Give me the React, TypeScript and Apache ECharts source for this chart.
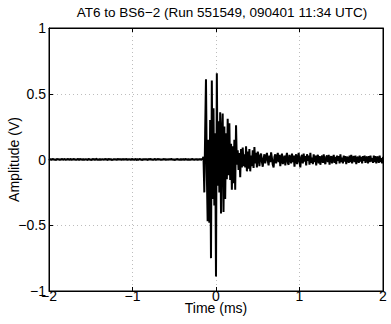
import React, { useEffect, useRef } from "react";
import * as echarts from "echarts";

// Sampling grid of the trace (ms)
const TIME_START = -2;
const TIME_STEP = 0.01;

// Quiet period before the burst, t = -2.00 .. -0.16 ms (V)
const preBurst: number[] = [
  0.004, -0.003, 0.006, -0.005, 0.002, 0.005, -0.004, 0.003, -0.006, 0.001,
  0.005, -0.002, 0.004, -0.006, 0.003, -0.001, 0.006, -0.004, 0.002, 0.004,
  -0.005, 0.003, -0.002, 0.006, -0.004, 0.001, 0.005, -0.006, 0.003, -0.002,
  0.006, -0.003, 0.002, -0.005, 0.004, 0.003, -0.006, 0.005, -0.001, 0.002,
  -0.004, 0.006, -0.005, 0.003, -0.002, 0.004, -0.006, 0.002, 0.005, -0.003,
  0.001, -0.005, 0.006, -0.002, 0.004, -0.004, 0.003, 0.006, -0.005, 0.002,
  -0.003, 0.005, -0.006, 0.004, -0.001, 0.003, -0.004, 0.006, -0.002, 0.005,
  -0.006, 0.002, 0.004, -0.003, 0.006, -0.005, 0.001, -0.004, 0.005, -0.002,
  0.003, -0.006, 0.005, -0.001, 0.004, -0.003, 0.006, -0.005, 0.002, 0.003,
  -0.004, 0.005, -0.002, 0.006, -0.006, 0.003, -0.001, 0.004, -0.005, 0.006,
  -0.002, 0.003, -0.005, 0.004, 0.002, -0.006, 0.005, -0.003, 0.001, 0.006,
  -0.004, 0.002, -0.006, 0.005, -0.002, 0.004, -0.003, 0.006, -0.005, 0.001,
  0.004, -0.002, 0.006, -0.004, 0.003, -0.005, 0.002, 0.005, -0.006, 0.003,
  -0.001, 0.006, -0.003, 0.004, -0.005, 0.002, -0.004, 0.006, -0.002, 0.005,
  -0.006, 0.003, 0.001, -0.004, 0.005, -0.003, 0.006, -0.002, 0.004, -0.005,
  0.002, -0.006, 0.004, -0.001, 0.005, -0.004, 0.003, -0.005, 0.006, -0.003,
  0.001, 0.004, -0.005, 0.006, -0.002, 0.003, -0.006, 0.005, -0.004, 0.002,
  -0.003, 0.006, -0.001, 0.004, -0.005, 0.003, -0.002, 0.005, -0.006, 0.004,
  -0.002, 0.005, -0.004, 0.003, 0.006,
];

// Burst, t = -0.15 .. 0.50 ms (V)
const burst: number[] = [
  0.02, -0.25, 0.2, 0.61, -0.1, -0.47, 0.15, -0.48, 0.3, -0.75,
  0.6, -0.3, 0.39, -0.35, 0.2,
  -0.89, 0.655, -0.2, 0.29, -0.25, 0.36, -0.41, 0.2, 0.35, -0.4,
  0.25, -0.3, 0.2, -0.15, 0.31, -0.12, 0.275, -0.155, 0.12, -0.23,
  0.1, -0.18, 0.15, -0.23, 0.26, -0.04, 0.07, -0.08, 0.05, -0.135,
  0.08, -0.06, 0.09, -0.05, 0.04, -0.06, 0.1, -0.09, 0.06, -0.07,
  0.08, -0.09, 0.03, -0.05, 0.07, -0.065, 0.095, -0.03, 0.05, -0.06,
  0.06,
];

// Decaying tail, t = 0.51 .. 2.00 ms (V)
const tail: number[] = [
  0.03, -0.05, 0.02, 0.045, -0.02, -0.055, 0.01, 0.04, -0.03, 0.02,
  0.05, -0.01, -0.045, 0.03, -0.02, 0.055, 0.01, -0.04, -0.06, 0.02,
  0.04, -0.03, 0.015, 0.05, -0.02, 0.035, -0.05, 0.01, 0.045, -0.035,
  -0.01, 0.03, -0.045, 0.02, 0.05, -0.025, -0.04, 0.035, 0.01, -0.03,
  0.045, -0.02, 0.03, -0.055, 0.015, 0.04, -0.035, 0.005, 0.05, -0.02,
  -0.06, 0.02, 0.035, -0.03, 0.045, -0.015, 0.025, -0.045, 0.04, -0.01,
  0.03, -0.04, 0.05, -0.025, 0.015, -0.035, 0.04, -0.02, 0.03, -0.045,
  0.02, 0.035, -0.03, 0.025, -0.04, 0.01, 0.03, -0.025, 0.04, -0.015,
  -0.035, 0.02, 0.03, -0.02, 0.035, -0.04, 0.015, 0.025, -0.03, 0.01,
  0.035, -0.025, 0.02, -0.035, 0.03, -0.01, 0.025, -0.03, 0.04, -0.02,
  0.015, -0.03, 0.03, -0.015, 0.025, -0.035, 0.02, 0.01, -0.025, 0.03,
  -0.02, 0.035, -0.03, 0.015, 0.025, -0.02, 0.03, -0.035, 0.01, 0.02,
  -0.025, 0.03, -0.015, 0.02, -0.03, 0.025, -0.01, 0.03, -0.025, 0.015,
  0.02, -0.03, 0.025, -0.02, 0.03, -0.015, 0.01, -0.025, 0.03, -0.02,
  0.025, -0.03, 0.015, 0.02, -0.025, 0.03, -0.02, 0.01, -0.03, 0.02,
];

const TITLE = "AT6 to BS6\u22122 (Run 551549, 090401 11:34 UTC)";
const X_NAME = "Time (ms)";
const Y_NAME = "Amplitude (V)";

const FONT = "'Liberation Sans', Arial, Helvetica, sans-serif";

const fmt = (v: number) => {
  const s = String(Math.round(v * 100) / 100);
  return s.replace("-", "\u2212");
};

export default function App() {
  const ref = useRef<HTMLDivElement>(null);
  useEffect(() => {
    if (!ref.current) return;
    const chart = echarts.init(ref.current, undefined, { renderer: "svg" });
    const values = [...preBurst, ...burst, ...tail];
    const data = values.map((v, i) => [
      Math.round((TIME_START + i * TIME_STEP) * 1000) / 1000,
      v,
    ]);
    const gridLine = { show: true, lineStyle: { color: "#bdbdbd", type: [1, 3] as any, width: 1 } };
    const axisLine = { show: true, onZero: false, lineStyle: { color: "#000", width: 1 } };
    const tick = { show: true, inside: true, length: 4, lineStyle: { color: "#000" } };
    chart.setOption({
      animation: false,
      backgroundColor: "#ffffff",
      textStyle: { fontFamily: FONT },
      graphic: [
        {
          type: "text",
          x: 222,
          y: 12.5,
          silent: true,
          style: {
            text: TITLE,
            align: "center",
            verticalAlign: "middle",
            fontFamily: FONT,
            fontSize: 13.5,
            fill: "#000",
          },
        },
      ],
      grid: {
        left: 49,
        right: 8,
        top: 28,
        bottom: 33,
        containLabel: false,
        outerBoundsMode: "none",
        show: true,
        borderColor: "#000",
        borderWidth: 1,
        backgroundColor: "#fff",
      },
      xAxis: [
        {
          type: "value",
          min: -2,
          max: 2,
          interval: 1,
          position: "bottom",
          name: X_NAME,
          nameLocation: "middle",
          nameGap: 10,
          nameMoveOverlap: false,
          nameTextStyle: {
            fontFamily: FONT,
            fontSize: 14,
            lineHeight: 14,
            color: "#000",
            verticalAlign: "top",
          },
          axisLine,
          axisTick: tick,
          axisLabel: {
            fontFamily: FONT,
            fontSize: 14,
            lineHeight: 10,
            color: "#000",
            margin: 0,
            formatter: fmt,
          },
          splitLine: gridLine,
        },
        {
          type: "value",
          min: -2,
          max: 2,
          interval: 1,
          position: "top",
          axisLine,
          axisTick: tick,
          axisLabel: { show: false },
          splitLine: { show: false },
        },
      ],
      yAxis: [
        {
          type: "value",
          min: -1,
          max: 1,
          interval: 0.5,
          position: "left",
          name: Y_NAME,
          nameLocation: "middle",
          nameGap: 28,
          nameRotate: 90,
          nameMoveOverlap: false,
          nameTextStyle: { fontFamily: FONT, fontSize: 14, color: "#000", verticalAlign: "bottom" },
          axisLine,
          axisTick: tick,
          axisLabel: {
            fontFamily: FONT,
            fontSize: 14,
            lineHeight: 10,
            color: "#000",
            margin: 3,
            formatter: fmt,
          },
          splitLine: gridLine,
        },
        {
          type: "value",
          min: -1,
          max: 1,
          interval: 0.5,
          position: "right",
          axisLine,
          axisTick: tick,
          axisLabel: { show: false },
          splitLine: { show: false },
        },
      ],
      series: [
        {
          type: "line",
          data,
          xAxisIndex: 0,
          yAxisIndex: 0,
          showSymbol: false,
          symbol: "none",
          lineStyle: { color: "#000", width: 2 },
          emphasis: { disabled: true },
        },
      ],
    });
    return () => chart.dispose();
  }, []);
  return (
    <div
      ref={ref}
      style={{ position: "fixed", left: 0, top: 0, width: 391, height: 324, background: "#fff" }}
    />
  );
}
